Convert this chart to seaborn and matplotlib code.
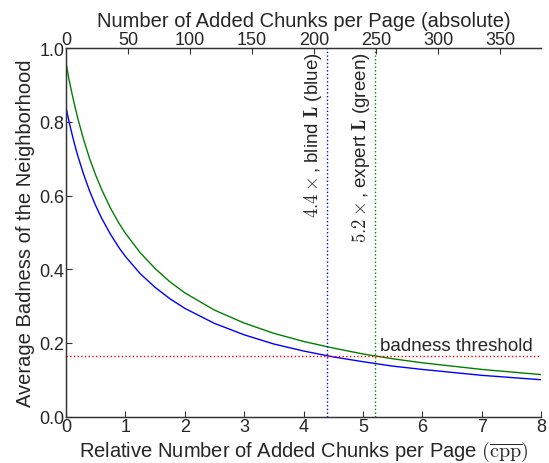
import numpy as np
import pandas as pd
import matplotlib
matplotlib.use('Agg')
import matplotlib.pyplot as plt
import seaborn as sns

# values
cpp_rel = [0, 0.05, 0.1, 0.15, 0.2, 0.3, 0.4, 0.5, 0.6, 0.75, 0.9, 1, 1.25, 1.5, 1.75,
           2, 2.5, 3, 3.5, 4, 4.5, 5, 5.5, 6, 7, 8]
badness_blind = [0.841, 0.803, 0.769, 0.737, 0.708, 0.657, 0.612, 0.573, 0.539, 0.495, 0.457,
                 0.435, 0.388, 0.351, 0.320, 0.294, 0.253, 0.222, 0.197, 0.178, 0.162,
                 0.149, 0.137, 0.128, 0.112, 0.100]
badness_expert = [0.962, 0.917, 0.879, 0.843, 0.810, 0.751, 0.700, 0.656, 0.617, 0.566, 0.523,
                  0.498, 0.445, 0.402, 0.366, 0.336, 0.289, 0.254, 0.226, 0.204, 0.186,
                  0.170, 0.157, 0.146, 0.128, 0.114]
threshold = 0.165
cross_blind = 4.4
cross_expert = 5.2
chunks_per_unit = 47.9   # absolute chunks per page for 1 relative unit
top_ticks = [0, 50, 100, 150, 200, 250, 300, 350]

sns.set_style('ticks')
plt.rcParams['font.family'] = ['Liberation Sans', 'DejaVu Sans']
plt.rcParams['mathtext.fontset'] = 'cm'
plt.rcParams['xtick.direction'] = 'in'
plt.rcParams['ytick.direction'] = 'in'

df = pd.DataFrame({'x': cpp_rel, 'blind': badness_blind, 'expert': badness_expert})

fig = plt.figure(figsize=(5.49, 4.64), dpi=100)
ax = fig.add_axes([0.120, 0.100, 0.866, 0.794])

sns.lineplot(data=df, x='x', y='expert', color='#008000', lw=1, ax=ax, legend=False)
sns.lineplot(data=df, x='x', y='blind', color='#0000ff', lw=1, ax=ax, legend=False)

ax.axhline(threshold, color='red', ls=':', lw=1)
ax.axvline(cross_blind, color='#0000ff', ls=':', lw=1)
ax.axvline(cross_expert, color='#008000', ls=':', lw=1)

lab_fs = 14.5
tick_fs = 13
ann_fs = 13.5
ax.text(cross_blind - 0.05, 0.99, r'$4.4\times$, blind $\mathbf{L}$ (blue)', rotation=90,
        ha='right', va='top', fontsize=ann_fs)
ax.text(cross_expert - 0.05, 0.99, r'$5.2\times$, expert $\mathbf{L}$ (green)', rotation=90,
        ha='right', va='top', fontsize=ann_fs)
ax.text(5.28, threshold + 0.004, 'badness threshold', ha='left', va='bottom', fontsize=ann_fs)

ax.set_xlim(0, 8)
ax.set_ylim(0, 1.0)
ax.set_xticks(range(0, 9))
ax.set_yticks([0.0, 0.2, 0.4, 0.6, 0.8, 1.0])
ax.set_yticklabels(['0.0', '0.2', '0.4', '0.6', '0.8', '1.0'])
ax.set_xlabel(r'Relative Number of Added Chunks per Page $(\overline{\rm cpp})$', fontsize=lab_fs, labelpad=3)
ax.set_ylabel('Average Badness of the Neighborhood', fontsize=lab_fs, labelpad=3)
ax.tick_params(labelsize=tick_fs, length=4, width=0.8, pad=1, color='#333333')
ax.spines['right'].set_visible(False)
for s in ['left', 'bottom', 'top']:
    ax.spines[s].set_color('#333333')
    ax.spines[s].set_linewidth(1.0)

top = ax.twiny()
top.set_xlim(0, 8 * chunks_per_unit)
top.set_xticks(top_ticks)
top.set_xlabel('Number of Added Chunks per Page (absolute)', fontsize=lab_fs, labelpad=4)
top.tick_params(labelsize=tick_fs, length=4, width=0.8, pad=0, direction='in', color='#333333')
top.spines['right'].set_visible(False)
for s in ['left', 'bottom', 'top']:
    top.spines[s].set_color('#333333')

fig.savefig('out.png', dpi=100)
